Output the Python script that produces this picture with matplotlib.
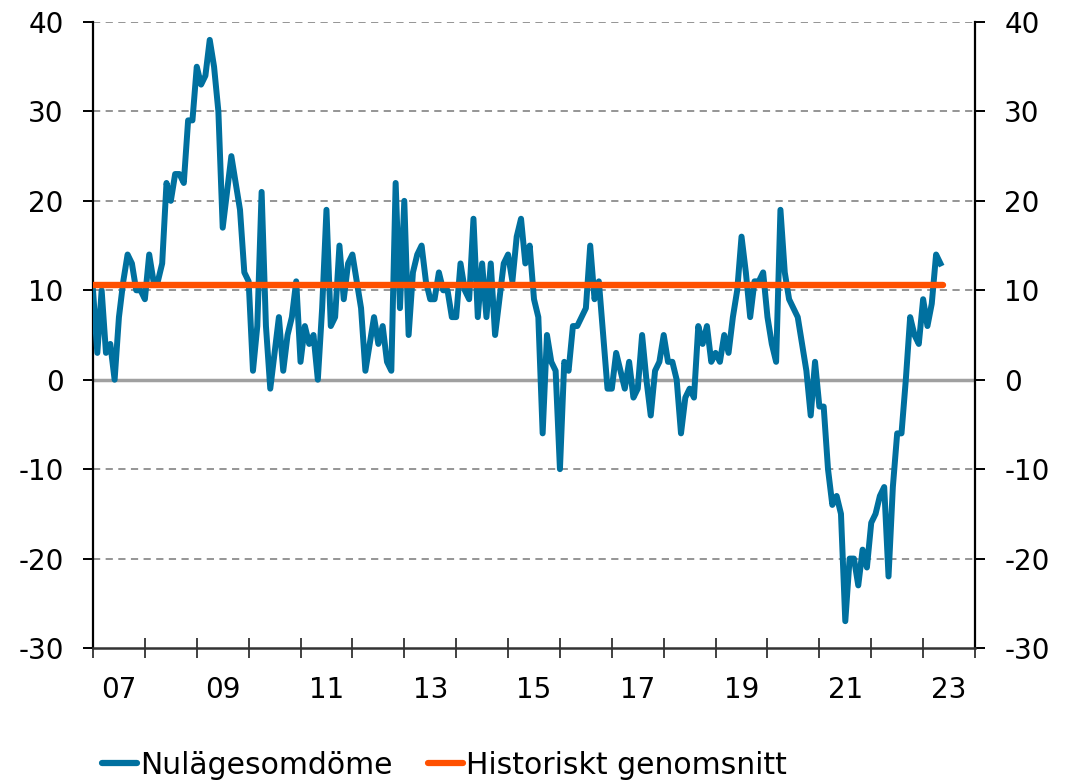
import matplotlib
matplotlib.use("Agg")
import matplotlib.pyplot as plt
import numpy as np

# Monthly series starting January 2007
start_year = 2007
nulage = [
    10, 3, 10, 3, 4, 0, 7, 11, 14, 13, 10, 10,
    9, 14, 11, 11, 13, 22, 20, 23, 23, 22, 29, 29,
    35, 33, 34, 38, 35, 30, 17, 21, 25, 22, 19, 12,
    11, 1, 6, 21, 6, -1, 3, 7, 1, 5, 7, 11,
    2, 6, 4, 5, 0, 8, 19, 6, 7, 15, 9, 13,
    14, 11, 8, 1, 4, 7, 4, 6, 2, 1, 22, 8,
    20, 5, 12, 14, 15, 11, 9, 9, 12, 10, 10, 7,
    7, 13, 10, 9, 18, 7, 13, 7, 13, 5, 9, 13,
    14, 11, 16, 18, 13, 15, 9, 7, -6, 5, 2, 1,
    -10, 2, 1, 6, 6, 7, 8, 15, 9, 11, 5, -1,
    -1, 3, 1, -1, 2, -2, -1, 5, 0, -4, 1, 2,
    5, 2, 2, 0, -6, -2, -1, -2, 6, 4, 6, 2,
    3, 2, 5, 3, 7, 10, 16, 12, 7, 11, 11, 12,
    7, 4, 2, 19, 12, 9, 8, 7, 4, 1, -4, 2,
    -3, -3, -10, -14, -13, -15, -27, -20, -20, -23, -19, -21,
    -16, -15, -13, -12, -22, -12, -6, -6, 0, 7, 5, 4,
    9, 6, 8.5, 14, 13,
]
hist_avg = 10.6
year_labels = ["07", "09", "11", "13", "15", "17", "19", "21", "23"]
label_years = [2007, 2009, 2011, 2013, 2015, 2017, 2019, 2021, 2023]
series_names = ["Nulägesomdöme", "Historiskt genomsnitt"]

blue = "#00709f"
orange = "#ff5000"

plt.rcParams['font.family'] = ['DejaVu Sans']
plt.rcParams['axes.unicode_minus'] = False

fig = plt.figure(figsize=(10.73, 7.83), dpi=100)
ax = fig.add_axes([93/1073, 1 - 648/783, (975-93)/1073, (648-22)/783])

x = start_year + np.arange(len(nulage)) / 12.0

# grid lines
for v in [-20, -10, 10, 20, 30, 40]:
    ax.axhline(v, color="#8c8c8c", lw=1.3, ls=(0, (4, 3)), zorder=1)
ax.axhline(0, color="#a0a0a0", lw=2.5, zorder=1)

ax.plot(x, nulage, color=blue, lw=4.3, label=series_names[0], zorder=3,
        solid_joinstyle="round")
ax.plot([x[0], x[-1] + 0.05], [hist_avg, hist_avg], color=orange, lw=4.6,
        label=series_names[1], zorder=4, solid_capstyle="round")

ax.set_xlim(2007, 2024)
ax.set_ylim(-30, 40)

ax.spines['top'].set_visible(False)
for s in ['left', 'right']:
    ax.spines[s].set_color("black")
    ax.spines[s].set_linewidth(1.6)
ax.spines['bottom'].set_color("#333333")
ax.spines['bottom'].set_linewidth(1.8)

ax.set_yticks(range(-30, 41, 10))
ax.tick_params(axis='y', which='both', direction='out', length=7, width=1.4,
               labelsize=20, pad=14, left=True, right=True,
               labelleft=True, labelright=True, colors='black')

ax.set_xticks(range(2007, 2025))
ax.set_xticklabels([])
ax.set_xticks([y + 0.5 for y in label_years], minor=True)
ax.set_xticklabels(year_labels, minor=True)
ax.tick_params(axis='x', which='major', direction='inout', length=14,
               width=1.3, color="#333333")
ax.tick_params(axis='x', which='minor', length=0, labelsize=20, pad=20)

leg = fig.legend(loc='center left', bbox_to_anchor=(102/1073, 1 - 765/783),
                 ncol=2, frameon=False, fontsize=21.5, handlelength=1.17,
                 handletextpad=0.1, columnspacing=1.2, borderpad=0,
                 borderaxespad=0)
for line in leg.get_lines():
    line.set_linewidth(4.5)
    line.set_solid_capstyle("round")

fig.savefig("out.png", dpi=100)
